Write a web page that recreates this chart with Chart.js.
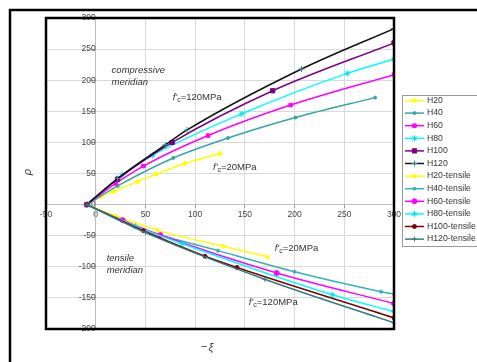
<!DOCTYPE html>
<html>
<head>
<meta charset="utf-8">
<script src="https://cdn.jsdelivr.net/npm/chart.js@4/dist/chart.umd.min.js"></script>
<style>
  html, body { margin: 0; padding: 0; background: #fff; }
  #wrap { position: relative; width: 477px; height: 362px; }
  canvas { display: block; }
</style>
</head>
<body>
<div id="wrap"><canvas id="c" width="477" height="362"></canvas></div>
<script>
// ---- data (xi = -ξ, rho = ρ) ----
const seriesNames = ["H20","H40","H60","H80","H100","H120",
  "H20-tensile","H40-tensile","H60-tensile","H80-tensile","H100-tensile","H120-tensile"];

const H20_xi  = [-9, 5, 18, 42, 61, 90, 125];
const H20_rho = [0, 13, 21, 37, 49, 66, 82];
const H40_xi  = [-9, 22, 78, 133, 201, 281];
const H40_rho = [0, 30, 75, 107, 140, 172];
const H60_xi  = [-9, 20, 48, 113, 196, 300];
const H60_rho = [0, 34, 62, 111, 160, 209];
const H80_xi  = [-9, 27, 57, 147, 253, 300];
const H80_rho = [0, 48, 79, 146, 211, 234];
const H100_xi  = [-9, 22, 77, 178, 300];
const H100_rho = [0, 41, 100, 183, 260];
const H120_xi  = [-9, 22, 70, 92, 207, 300];
const H120_rho = [0, 42, 96, 120, 218, 283];

const H20t_xi  = [-9, 20, 62, 128, 173];
const H20t_rho = [0, -18, -41, -67, -84];
const H40t_xi  = [-9, 40, 123, 200, 287, 300];
const H40t_rho = [0, -36, -74, -108, -140, -144];
const H60t_xi  = [-9, 27, 65, 182, 300];
const H60t_rho = [0, -25, -49, -110, -159];
const H80t_xi  = [-9, 40, 87, 238, 300];
const H80t_rho = [0, -35, -63, -145, -172];
const H100t_xi  = [-9, 48, 110, 142, 300];
const H100t_rho = [0, -42, -83, -101, -182];
const H120t_xi  = [-9, 50, 170, 300];
const H120t_rho = [0, -45, -120, -190];

const xTicks = [-50, 0, 50, 100, 150, 200, 250, 300];
const yTicks = [-200, -150, -100, -50, 0, 50, 100, 150, 200, 250, 300];

// annotation labels, placed in data units
const notes = [
  {t:"compressive", x:16, y:216, kind:"plain"},
  {t:"meridian", x:16, y:197, kind:"plain"},
  {t:"=120MPa", x:77.5, y:173, kind:"fc"},
  {t:"=20MPa", x:118, y:60, kind:"fc"},
  {t:"tensile", x:11, y:-86, kind:"plain"},
  {t:"meridian", x:11, y:-105, kind:"plain"},
  {t:"=20MPa", x:180, y:-70, kind:"fc"},
  {t:"=120MPa", x:154, y:-157, kind:"fc"}
];

const pts = (xs, ys) => xs.map((v, i) => ({x: v, y: ys[i]}));
const FONT = "'Liberation Sans', Arial, sans-serif";

const styles = [
  {line:"#ffff00", pt:"#ffff00", ps:"rectRot", r:2.5},
  {line:"#33a6a6", pt:"#33a6a6", ps:"circle", r:1.5},
  {line:"#ff00ff", pt:"#ff00ff", ps:"rect", r:2.5},
  {line:"#00ffff", pt:"#00e5e5", ps:"star", r:3},
  {line:"#800080", pt:"#800080", ps:"rect", r:3},
  {line:"#111111", pt:"#2a8f8f", ps:"cross", r:3},
  {line:"#ffff00", pt:"#ffff00", ps:"rect", r:2},
  {line:"#33b3b3", pt:"#33b3b3", ps:"circle", r:1.5},
  {line:"#ff00ff", pt:"#ff00ff", ps:"circle", r:2.5},
  {line:"#00ffff", pt:"#00e5e5", ps:"star", r:3},
  {line:"#800000", pt:"#800000", ps:"circle", r:2},
  {line:"#2e7f7f", pt:"#2e7f7f", ps:"cross", r:2.5}
];
const dataXY = [
  pts(H20_xi,H20_rho), pts(H40_xi,H40_rho), pts(H60_xi,H60_rho),
  pts(H80_xi,H80_rho), pts(H100_xi,H100_rho), pts(H120_xi,H120_rho),
  pts(H20t_xi,H20t_rho), pts(H40t_xi,H40t_rho), pts(H60t_xi,H60t_rho),
  pts(H80t_xi,H80t_rho), pts(H100t_xi,H100t_rho), pts(H120t_xi,H120t_rho)
];

const datasets = seriesNames.map((n, i) => ({
  label: n,
  data: dataXY[i],
  showLine: true,
  borderColor: styles[i].line,
  borderWidth: 1.5,
  backgroundColor: styles[i].pt,
  pointBackgroundColor: styles[i].pt,
  pointBorderColor: styles[i].pt,
  pointBorderWidth: 1,
  pointStyle: styles[i].ps,
  pointRadius: styles[i].r,
  cubicInterpolationMode: "monotone",
  order: 12 - i
}));

function drawMarker(ctx, s, x, y) {
  if (Chart.helpers && Chart.helpers.drawPoint) {
    ctx.save();
    ctx.fillStyle = s.pt; ctx.strokeStyle = s.pt; ctx.lineWidth = 1;
    Chart.helpers.drawPoint(ctx, {pointStyle: s.ps, radius: s.r, rotation: 0, borderWidth: 1}, x, y);
    ctx.restore();
  } else {
    ctx.beginPath(); ctx.fillStyle = s.pt; ctx.arc(x, y, s.r, 0, Math.PI*2); ctx.fill();
  }
}

const decor = {
  id: "decor",
  afterDraw(chart) {
    const ctx = chart.ctx, ca = chart.chartArea;
    const xs = chart.scales.x, ys = chart.scales.y;
    ctx.save();
    // plot frame
    ctx.strokeStyle = "#000"; ctx.lineWidth = 2.5;
    ctx.strokeRect(ca.left, ca.top, ca.right - ca.left, ca.bottom - ca.top);
    // outer frame (left + top edges, running off the picture)
    ctx.lineWidth = 2.5;
    ctx.beginPath();
    ctx.moveTo(10, 380); ctx.lineTo(10, 10); ctx.lineTo(490, 10);
    ctx.stroke();

    // annotations
    ctx.fillStyle = "#333";
    ctx.textBaseline = "middle"; ctx.textAlign = "left";
    notes.forEach(n => {
      const px = xs.getPixelForValue(n.x), py = ys.getPixelForValue(n.y);
      if (n.kind === "plain") {
        ctx.font = "italic 9.5px " + FONT;
        ctx.fillText(n.t, px, py);
      } else {
        ctx.font = "italic 9.5px " + FONT;
        ctx.fillText("f'", px, py);
        let w = ctx.measureText("f'").width;
        ctx.font = "7px " + FONT;
        ctx.fillText("c", px + w, py + 3);
        w += ctx.measureText("c").width;
        ctx.font = "9.5px " + FONT;
        ctx.fillText(n.t, px + w, py);
      }
    });

    // axis titles
    ctx.font = "italic 11px " + FONT;
    ctx.save();
    ctx.translate(28, 172); ctx.rotate(-Math.PI/2);
    ctx.textAlign = "center"; ctx.fillText("\u03C1", 0, 0);
    ctx.restore();
    ctx.textAlign = "left";
    ctx.font = "11px " + FONT;
    ctx.fillText("\u2212", 201, 347);
    let mw = ctx.measureText("\u2212").width;
    ctx.font = "italic 11px " + FONT;
    ctx.fillText("\u03BE", 201 + mw + 1, 348);

    // legend
    const lx = 402, ly = 95, lw = 80, lh = 151;
    ctx.fillStyle = "#fff";
    ctx.fillRect(lx, ly, lw, lh);
    ctx.strokeStyle = "#9a9a9a"; ctx.lineWidth = 1;
    ctx.strokeRect(lx + 0.5, ly + 0.5, lw, lh);
    ctx.font = "8.7px " + FONT;
    ctx.textBaseline = "middle";
    seriesNames.forEach((n, i) => {
      const y = 100.5 + i * 12.6;
      const s = styles[i];
      ctx.strokeStyle = s.line; ctx.lineWidth = 1.5;
      ctx.beginPath(); ctx.moveTo(405, y); ctx.lineTo(424, y); ctx.stroke();
      drawMarker(ctx, s, 414.5, y);
      ctx.fillStyle = "#333";
      ctx.fillText(n, 427, y);
    });
    ctx.restore();
  }
};

new Chart(document.getElementById("c"), {
  type: "scatter",
  data: { datasets },
  options: {
    responsive: false,
    animation: false,
    devicePixelRatio: 1,
    layout: { padding: { left: 46, top: 18, right: 83, bottom: 33 } },
    plugins: { legend: { display: false }, tooltip: { enabled: false } },
    scales: {
      x: {
        type: "linear", min: -50, max: 300,
        position: { y: 0 },
        afterBuildTicks: s => { s.ticks = xTicks.map(v => ({value: v})); },
        ticks: { color: "#444", font: { size: 8.5, family: FONT }, padding: 2, maxRotation: 0, autoSkip: false },
        grid: { color: "#d9d9d9", tickLength: 3, tickColor: "#999" },
        border: { color: "#bdbdbd" }
      },
      y: {
        type: "linear", min: -200, max: 300,
        position: { x: 0 },
        afterBuildTicks: s => { s.ticks = yTicks.map(v => ({value: v})); },
        ticks: { color: "#444", font: { size: 8.5, family: FONT }, padding: 3, autoSkip: false },
        grid: { color: "#d9d9d9", tickLength: 3, tickColor: "#999" },
        border: { color: "#bdbdbd" }
      }
    }
  },
  plugins: [decor]
});
</script>
</body>
</html>
